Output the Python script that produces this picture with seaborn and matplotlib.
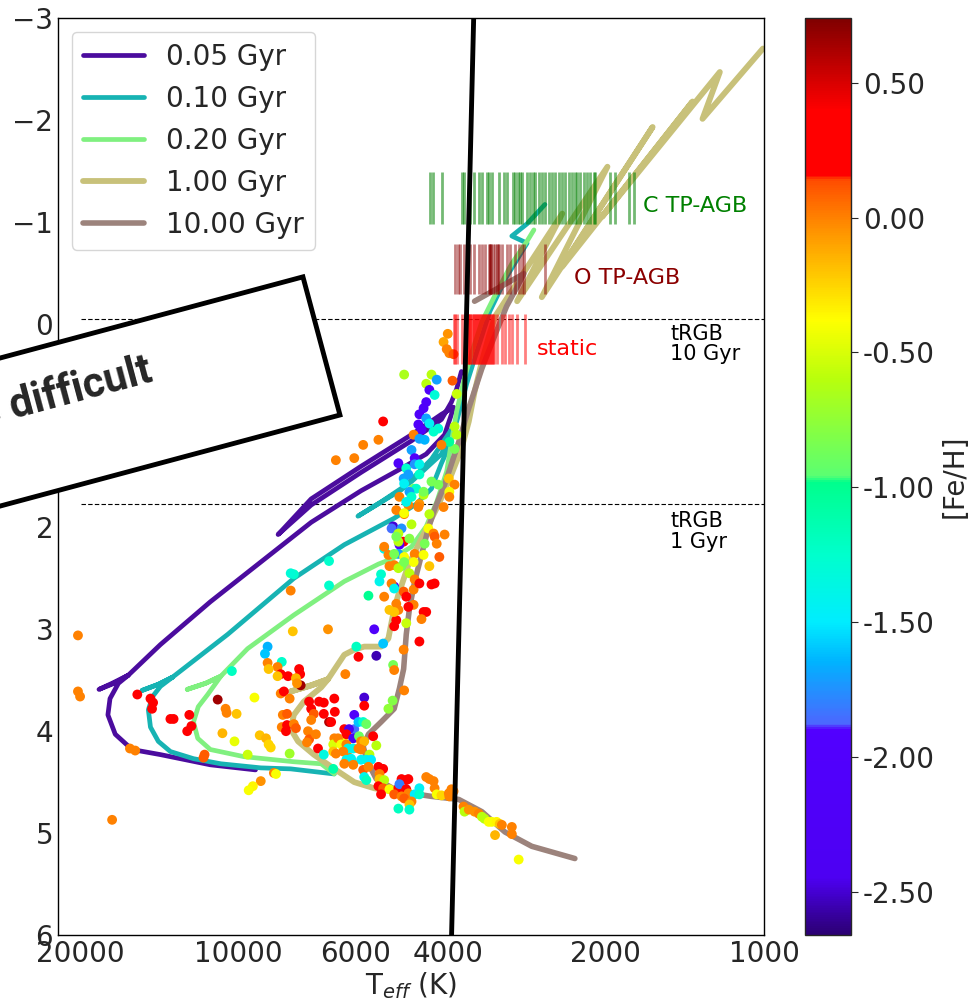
import numpy as np
import pandas as pd
import matplotlib
matplotlib.use('Agg')
import matplotlib.pyplot as plt
import seaborn as sns
from matplotlib.colors import LinearSegmentedColormap, Normalize
from matplotlib.patches import Rectangle
from matplotlib.ticker import FixedLocator, NullLocator, FixedFormatter
import matplotlib.cm as cm

sns.set_style('white')
plt.rcParams['font.family'] = ['DejaVu Sans']

# ---------------- data ----------------
ages = ['0.05 Gyr', '0.10 Gyr', '0.20 Gyr', '1.00 Gyr', '10.00 Gyr']
age_colors = ['#4b0c9e', '#17b3b3', '#80f080', '#c8c17a', '#9c837c']

iso_005_logt = [3.968, 4.054, 4.149, 4.203, 4.235, 4.249, 4.245, 4.229, 4.210, 4.241,
                4.266, 4.237, 4.210, 4.149, 4.054, 3.958, 3.862, 3.767, 3.690, 3.643,
                3.608, 3.595, 3.591, 3.614, 3.671, 3.767, 3.862, 3.925, 3.862, 3.767,
                3.671, 3.614, 3.595, 3.585, 3.576]
iso_005_mag = [4.38, 4.33, 4.23, 4.18, 4.03, 3.84, 3.68, 3.53, 3.45, 3.53,
               3.59, 3.53, 3.45, 3.15, 2.73, 2.34, 1.95, 1.64, 1.42, 1.28,
               1.09, 0.89, 0.82, 0.89, 1.09, 1.40, 1.72, 2.07, 1.78, 1.46,
               1.15, 0.94, 0.77, 0.64, 0.47]

iso_010_logt = [3.818, 3.901, 3.958, 4.034, 4.086, 4.130, 4.153, 4.168, 4.172, 4.164,
                4.149, 4.126, 4.153, 4.184, 4.153, 4.126, 4.021, 3.895, 3.799, 3.704,
                3.662, 3.633, 3.614, 3.600, 3.591, 3.633, 3.690, 3.738, 3.773, 3.729,
                3.671, 3.614, 3.585, 3.566, 3.547, 3.522, 3.490, 3.451, 3.480, 3.451,
                3.417]
iso_010_mag = [4.42, 4.37, 4.36, 4.32, 4.27, 4.20, 4.10, 3.96, 3.79, 3.66,
               3.56, 3.47, 3.54, 3.60, 3.54, 3.47, 3.05, 2.50, 2.17, 1.91,
               1.77, 1.62, 1.37, 1.21, 1.01, 1.33, 1.63, 1.78, 1.89, 1.75,
               1.55, 1.28, 0.96, 0.59, 0.28, -0.12, -0.46, -0.79, -0.86, -0.98,
               -1.17]

iso_020_logt = [3.818, 3.843, 3.895, 3.990, 4.054, 4.078, 4.086, 4.077, 4.059, 4.034,
                4.063, 4.098, 4.063, 4.034, 3.983, 3.895, 3.799, 3.734, 3.709, 3.671,
                3.643, 3.623, 3.604, 3.595, 3.585, 3.572, 3.556, 3.537, 3.509, 3.480,
                3.451, 3.438]
iso_020_mag = [4.42, 4.32, 4.30, 4.25, 4.18, 4.07, 3.91, 3.76, 3.64, 3.46,
               3.53, 3.59, 3.53, 3.46, 3.19, 2.86, 2.53, 2.36, 2.31, 2.19,
               1.99, 1.75, 1.45, 1.16, 0.86, 0.57, 0.28, -0.02, -0.31, -0.59,
               -0.81, -0.92]

iso_100_logt = [3.690, 3.742, 3.780, 3.818, 3.857, 3.887, 3.901, 3.895, 3.876, 3.843,
                3.830, 3.862, 3.901, 3.862, 3.830, 3.799, 3.780, 3.761, 3.729, 3.715,
                3.709, 3.704, 3.696, 3.677, 3.652, 3.620, 3.595, 3.576, 3.562, 3.551,
                3.537, 3.524, 3.512, 3.384, 3.470, 3.298, 3.423, 3.212, 3.384, 3.136,
                3.308, 3.084, 3.117, 3.002]
iso_100_mag = [4.61, 4.56, 4.50, 4.37, 4.23, 4.10, 3.98, 3.84, 3.71, 3.57,
               3.49, 3.55, 3.61, 3.55, 3.49, 3.25, 3.20, 3.17, 3.17, 3.09,
               2.93, 2.80, 2.66, 2.37, 2.11, 1.78, 1.48, 1.23, 0.96, 0.67,
               0.37, 0.13, -0.07, -1.08, -0.22, -1.54, -0.26, -1.93, -0.56, -2.18,
               -1.05, -2.47, -2.01, -2.70]

iso_1000_logt = [3.360, 3.442, 3.493, 3.537, 3.581, 3.633, 3.696, 3.738, 3.755, 3.763,
                 3.753, 3.729, 3.704, 3.694, 3.686, 3.681, 3.675, 3.665, 3.652, 3.639,
                 3.627, 3.608, 3.581, 3.562, 3.537, 3.512, 3.490, 3.470, 3.457, 3.551]
iso_1000_mag = [5.25, 5.13, 4.99, 4.79, 4.67, 4.64, 4.59, 4.47, 4.30, 4.15,
                4.03, 3.91, 3.78, 3.58, 3.39, 3.05, 2.80, 2.53, 2.27, 2.01,
                1.82, 1.58, 1.16, 0.83, 0.44, 0.11, -0.17, -0.36, -0.49, -0.22]

# stars: (log Teff, magnitude, [Fe/H])
stars_hot = [
    (4.306, 3.06, 0.0), (4.306, 3.61, 0.0), (4.302, 3.66, 0.0), (4.241, 4.87, 0.0),
    (4.193, 3.64, 0.3), (4.168, 3.68, 0.3), (4.163, 3.72, 0.3), (4.165, 3.78, 0.3),
    (4.207, 4.17, 0.0), (4.197, 4.19, 0.0), (4.130, 3.88, 0.3), (4.124, 3.88, 0.3),
    (4.094, 3.84, 0.3), (4.090, 3.95, 0.3), (4.098, 4.00, 0.3), (4.065, 4.23, 0.1),
    (4.067, 4.26, 0.1), (4.040, 3.69, 0.65), (4.025, 3.78, 0.0), (4.023, 3.82, 0.0),
    (4.004, 3.83, -0.2), (4.031, 4.02, -0.15), (4.008, 4.10, -0.45), (3.983, 4.23, -0.55),
    (3.970, 3.67, -0.4), (4.013, 3.41, -1.2), (3.960, 4.04, -0.2), (3.948, 4.07, -0.15),
    (3.943, 4.13, -0.25), (3.939, 4.16, -0.25), (3.933, 4.41, 0.0), (3.929, 4.42, -0.4),
    (3.958, 4.49, -0.05), (3.973, 4.54, -0.35), (3.981, 4.58, -0.4), (3.903, 4.22, -0.7),
]
stars_turnoff = [
    (3.945, 3.17, -1.65), (3.950, 3.24, -1.6), (3.918, 3.32, -1.25), (3.945, 3.33, 0.0),
    (3.926, 3.37, 0.0), (3.943, 3.39, -0.2), (3.920, 3.44, 0.3), (3.906, 3.46, 0.3),
    (3.926, 3.46, -0.2), (3.885, 3.39, 0.3), (3.883, 3.44, 0.3), (3.882, 3.55, 0.65),
    (3.891, 3.48, -0.15), (3.889, 3.53, -0.05), (3.920, 3.63, 0.0), (3.914, 3.61, 0.25),
    (3.903, 3.68, 0.0), (3.866, 3.71, 0.3), (3.862, 3.78, 0.3), (3.847, 3.71, 0.3),
    (3.838, 3.72, 0.3), (3.818, 3.68, 0.3), (3.817, 3.81, 0.3), (3.857, 3.83, 0.1),
    (3.838, 3.83, 0.3), (3.916, 3.84, 0.0), (3.908, 3.83, 0.1), (3.918, 3.96, 0.0),
    (3.908, 3.94, 0.3), (3.895, 3.93, 0.0), (3.891, 3.97, 0.1), (3.910, 4.00, 0.3),
    (3.868, 4.00, 0.0), (3.866, 4.08, 0.1), (3.870, 4.11, 0.0), (3.853, 4.03, 0.0),
    (3.849, 4.17, 0.3), (3.862, 3.89, 0.0), (3.828, 3.91, 0.6), (3.797, 3.44, 0.0),
    (3.776, 3.17, -1.2), (3.772, 3.27, 0.3), (3.818, 4.07, 0.0), (3.801, 4.10, -0.4),
    (3.820, 4.13, -0.5), (3.795, 4.00, 0.3), (3.780, 3.98, -1.85), (3.838, 4.23, -1.35),
    (3.820, 4.20, -0.2), (3.792, 4.25, 0.0), (3.782, 4.32, -0.05), (3.780, 3.84, -2.1),
    (3.772, 3.91, -1.6), (3.738, 3.26, -2.55), (3.706, 3.35, -0.85), (3.704, 3.40, 0.0),
    (3.685, 3.60, 0.0), (3.707, 3.70, -0.8), (3.715, 3.78, -0.75), (3.761, 3.67, -2.5),
    (3.761, 3.75, 0.3), (3.824, 3.91, 0.3), (3.763, 3.91, -1.25), (3.757, 3.93, -0.9),
    (3.799, 3.98, 0.3), (3.790, 3.98, -2.4), (3.795, 4.03, 0.3), (3.782, 4.07, -2.4),
    (3.744, 4.05, 0.3), (3.771, 4.05, -0.9), (3.767, 4.10, 0.0), (3.761, 4.10, -0.15),
    (3.738, 4.14, -0.6), (3.811, 4.07, 0.0), (3.805, 4.13, -0.4), (3.795, 4.13, 0.0),
    (3.792, 4.17, -1.4), (3.782, 4.17, -1.4), (3.772, 4.17, 0.0), (3.767, 4.18, 0.0),
    (3.815, 4.22, 0.0), (3.801, 4.20, 0.0), (3.751, 4.23, -0.6), (3.795, 4.28, -1.4),
    (3.786, 4.27, -1.45), (3.767, 4.28, -1.45), (3.757, 4.28, -1.4), (3.748, 4.28, -1.5),
    (3.799, 4.32, 0.0), (3.782, 4.33, 0.0), (3.820, 4.37, -1.1), (3.763, 4.38, 0.1),
    (3.753, 4.35, 0.0), (3.734, 4.35, 0.3), (3.725, 4.37, 0.3), (3.732, 4.42, 0.0),
    (3.761, 4.45, -1.4), (3.757, 4.48, -1.2), (3.732, 4.47, -0.2), (3.723, 4.48, -0.6),
]
stars_ms = [
    (3.690, 4.47, 0.3), (3.681, 4.48, 0.3), (3.643, 4.45, 0.0), (3.637, 4.47, 0.0),
    (3.629, 4.49, 0.0), (3.627, 4.56, 0.0), (3.734, 4.54, 0.3), (3.725, 4.56, 0.1),
    (3.713, 4.57, -0.4), (3.696, 4.56, 0.3), (3.694, 4.52, -1.8), (3.681, 4.57, 0.3),
    (3.677, 4.61, 0.0), (3.656, 4.56, -1.45), (3.665, 4.62, -1.5), (3.656, 4.62, -1.25),
    (3.729, 4.62, 0.3), (3.704, 4.62, 0.1), (3.690, 4.64, 0.0), (3.685, 4.66, 0.1),
    (3.671, 4.69, 0.0), (3.675, 4.72, -0.2), (3.696, 4.76, -1.2), (3.675, 4.77, -1.25),
    (3.623, 4.62, -0.4), (3.614, 4.63, -0.25), (3.600, 4.61, 0.0), (3.595, 4.57, 0.0),
    (3.599, 4.64, 0.0), (3.591, 4.59, 0.0), (3.572, 4.74, 0.0), (3.570, 4.79, -0.6),
    (3.562, 4.77, -0.05), (3.551, 4.79, -0.05), (3.543, 4.81, 0.0), (3.537, 4.84, -0.6),
    (3.532, 4.86, -0.6), (3.524, 4.89, -0.4), (3.518, 4.89, -0.4), (3.509, 4.89, -0.35),
    (3.503, 4.91, -0.2), (3.499, 4.92, 0.0), (3.480, 4.94, 0.0), (3.480, 5.01, 0.0),
    (3.512, 5.02, -0.15), (3.467, 5.26, -0.4), (3.677, 4.47, 0.3),
]
stars_rgb = [
    (3.602, 0.10, -0.05), (3.610, 0.18, -0.1), (3.604, 0.25, 0.0), (3.599, 0.29, 0.0),
    (3.591, 0.30, 0.1), (3.685, 0.50, -0.65), (3.633, 0.50, -0.6), (3.643, 0.59, -0.6),
    (3.623, 0.55, -1.7), (3.637, 0.65, -2.1), (3.627, 0.70, -1.3), (3.593, 0.56, 0.1),
    (3.585, 0.69, -0.55), (3.643, 0.77, -2.1), (3.648, 0.83, -2.15), (3.656, 0.89, -2.15),
    (3.643, 0.93, -1.7), (3.725, 0.96, 0.3), (3.658, 0.99, -2.1), (3.652, 1.04, -2.1),
    (3.637, 0.98, -1.45), (3.667, 1.09, 0.0), (3.620, 1.03, -1.3), (3.629, 1.06, -1.25),
    (3.656, 1.13, -1.7), (3.646, 1.14, -1.65), (3.734, 1.14, 0.0), (3.763, 1.19, 0.0),
    (3.815, 1.34, 0.0), (3.780, 1.32, 0.0), (3.589, 1.01, -0.6), (3.585, 1.09, -0.6),
    (3.589, 1.23, -0.85), (3.599, 1.16, -1.05), (3.671, 1.24, -1.7), (3.665, 1.32, -2.1),
    (3.696, 1.37, -2.15), (3.681, 1.42, -1.25), (3.677, 1.48, -1.7), (3.665, 1.38, -1.75),
    (3.686, 1.52, -1.7), (3.685, 1.57, -1.45), (3.656, 1.48, -1.25), (3.600, 1.52, -0.2),
    (3.589, 1.58, 0.0), (3.599, 1.65, -0.4), (3.633, 1.55, -0.85), (3.620, 1.58, -0.85),
    (3.667, 1.62, -0.9), (3.694, 1.70, 0.0), (3.648, 1.68, -0.6), (3.677, 1.78, 0.0),
    (3.656, 1.77, -0.05), (3.599, 1.70, 0.0), (3.637, 1.87, -0.6), (3.610, 1.80, 0.0),
    (3.700, 1.83, 0.0), (3.685, 1.87, 0.0), (3.706, 1.99, -2.5), (3.690, 2.01, -1.75),
    (3.709, 2.01, -1.85), (3.696, 2.06, -0.6), (3.686, 2.14, 0.3), (3.723, 2.21, -1.4),
    (3.715, 2.27, 0.0), (3.694, 2.17, -2.1), (3.696, 2.26, -1.7), (3.685, 2.29, -0.4),
    (3.665, 2.26, 0.0), (3.648, 2.27, -0.4), (3.637, 2.38, -0.2), (3.639, 2.01, -0.4),
    (3.629, 2.06, 0.0), (3.627, 2.09, 0.1), (3.608, 2.07, 0.0), (3.623, 2.16, 0.0),
    (3.618, 2.29, 0.1), (3.646, 2.16, -0.85), (3.667, 2.34, -0.4), (3.690, 2.38, -0.85),
    (3.713, 2.38, 0.0), (3.675, 2.45, -0.6), (3.665, 2.51, 0.0), (3.704, 2.58, -2.1),
    (3.709, 2.55, 0.0), (3.723, 2.68, 0.0), (3.686, 2.63, 0.1), (3.667, 2.61, 0.0),
    (3.656, 2.55, 0.3), (3.633, 2.56, 0.3), (3.627, 2.55, 0.3), (3.681, 2.68, 0.3),
    (3.667, 2.76, 0.0), (3.700, 2.75, 0.0), (3.696, 2.81, 0.0), (3.713, 2.81, -0.2),
    (3.677, 2.78, 0.3), (3.648, 2.83, 0.3), (3.643, 2.83, 0.3), (3.652, 2.90, 0.0),
    (3.700, 2.91, 0.3), (3.704, 2.97, 0.3), (3.681, 2.94, -0.55), (3.656, 3.12, 0.3),
    (3.686, 3.20, 0.0), (3.725, 3.14, -1.6), (3.901, 2.62, 0.0), (3.895, 2.46, -1.25),
    (3.901, 2.45, -1.3), (3.828, 2.33, -1.25), (3.828, 2.57, -1.25), (3.897, 3.02, -0.2),
    (3.830, 3.00, -0.05), (3.742, 3.00, -2.1), (3.753, 2.67, -1.0), (3.614, 1.19, 0.0),
    (3.656, 1.38, -1.4), (3.662, 1.62, -1.25), (3.648, 1.65, -0.85), (3.675, 1.65, -1.7),
    (3.671, 1.70, -1.25), (3.681, 1.75, -1.4), (3.685, 1.86, -0.4), (3.658, 1.80, 0.0),
    (3.671, 1.97, -0.6), (3.696, 2.14, -0.6), (3.700, 2.09, -0.85), (3.675, 2.11, -0.8),
    (3.723, 2.19, 0.0), (3.704, 2.26, -0.85), (3.729, 2.46, -1.25), (3.732, 2.53, -1.4),
    (3.704, 2.37, 0.0), (3.696, 2.40, -0.6), (3.685, 2.34, -0.85), (3.704, 2.60, -1.4),
    (3.704, 2.83, -0.2),
]

# TP-AGB / static marker temperatures (K) and magnitude bands
c_agb_teff = [4330, 4260, 4110, 3760, 3730, 3620, 3570, 3490, 3445, 3370, 3340, 3300,
              3200, 3130, 3090, 3005, 2980, 2940, 2915, 2890, 2830, 2790, 2755, 2730,
              2680, 2645, 2610, 2565, 2530, 2500, 2455, 2425, 2390, 2350, 2320, 2290,
              2270, 2240, 2200, 2170, 2140, 2105, 2095, 1960, 1920, 1805, 1765]
c_agb_band = [-1.49, -0.98]
o_agb_teff = [3880, 3830, 3795, 3730, 3680, 3635, 3570, 3490, 3445, 3400, 3340, 3330,
              3320, 3310, 3285, 3255, 3230, 3215, 3200, 3155, 3085, 3045, 2980, 2930,
              2890, 2865, 2610]
o_agb_band = [-0.785, -0.29]
static_teff = [3900, 3880, 3845, 3765, 3715, 3680, 3660, 3650, 3635, 3620, 3600, 3585,
               3570, 3555, 3540, 3525, 3505, 3490, 3475, 3460, 3445, 3430, 3415, 3400,
               3385, 3370, 3355, 3340, 3325, 3310, 3300, 3285, 3270, 3225, 3155, 3115,
               3060, 3020, 2955, 2850]
static_band = [-0.09, 0.40]

trgb_mag = [-0.05, 1.77]
trgb_labels = ['tRGB\n10 Gyr', 'tRGB\n1 Gyr']
cut_teff = [3570, 3933]
cut_mag = [-3, 6]

x_ticks = [20000, 10000, 6000, 4000, 2000, 1000]
x_ticklabels = ['20000', '10000', '6000', '4000', '2000', '1000']
cb_ticks = [0.5, 0.0, -0.5, -1.0, -1.5, -2.0, -2.5]
cb_ticklabels = ['0.50', '0.00', '-0.50', '-1.00', '-1.50', '-2.00', '-2.50']
feh_min, feh_max = -2.66, 0.74

# colormap nodes ([Fe/H] value, rgb)
cmap_nodes = [(-2.66, (0.17, 0.0, 0.45)), (-2.45, (0.30, 0.0, 0.95)),
              (-1.90, (0.32, 0.0, 1.0)), (-1.88, (0.30, 0.40, 1.0)),
              (-1.65, (0.0, 0.70, 1.0)), (-1.50, (0.0, 0.93, 1.0)),
              (-1.25, (0.0, 1.0, 0.80)), (-0.98, (0.0, 1.0, 0.55)),
              (-0.96, (0.35, 1.0, 0.45)), (-0.60, (0.72, 1.0, 0.05)),
              (-0.38, (1.0, 1.0, 0.0)), (-0.05, (1.0, 0.58, 0.0)),
              (0.14, (1.0, 0.30, 0.0)), (0.16, (1.0, 0.0, 0.0)),
              (0.40, (1.0, 0.0, 0.0)), (0.74, (0.5, 0.0, 0.0))]

# ---------------- figure ----------------
cmap = LinearSegmentedColormap.from_list(
    'feh', [((v - feh_min) / (feh_max - feh_min), c) for v, c in cmap_nodes], N=512)
norm = Normalize(vmin=feh_min, vmax=feh_max)

fig = plt.figure(figsize=(9.7, 10.05), dpi=100)
ax = fig.add_axes([0.0598, 0.0697, 0.7278, 0.9124])
cax = fig.add_axes([0.8299, 0.0697, 0.0474, 0.9124])
ax.set_xscale('log')

isos = [(iso_005_logt, iso_005_mag), (iso_010_logt, iso_010_mag),
        (iso_020_logt, iso_020_mag), (iso_100_logt, iso_100_mag),
        (iso_1000_logt, iso_1000_mag)]
widths = [3.4, 3.4, 3.4, 4.2, 4.0]
for (lt, mg), lab, col, w in zip(isos, ages, age_colors, widths):
    df = pd.DataFrame({'teff': 10 ** np.array(lt), 'mag': mg})
    sns.lineplot(data=df, x='teff', y='mag', sort=False, estimator=None,
                 color=col, lw=w, label=lab, ax=ax, zorder=2)

stars = pd.DataFrame(stars_hot + stars_turnoff + stars_ms + stars_rgb,
                     columns=['logt', 'mag', 'feh'])
stars['teff'] = 10 ** stars['logt']
sns.scatterplot(data=stars, x='teff', y='mag', hue='feh', palette=cmap,
                hue_norm=norm, s=50, linewidth=0, legend=False, ax=ax, zorder=3)

ax.vlines(c_agb_teff, c_agb_band[0], c_agb_band[1], colors='green', alpha=0.55, lw=2.0, zorder=4)
ax.vlines(o_agb_teff, o_agb_band[0], o_agb_band[1], colors='darkred', alpha=0.5, lw=2.0, zorder=4)
ax.vlines(static_teff, static_band[0], static_band[1], colors='red', alpha=0.5, lw=2.0, zorder=4)

for m in trgb_mag:
    ax.plot([20000, 1000], [m, m], color='black', lw=0.8, ls=(0, (4, 2)), zorder=1)

ax.plot(cut_teff, cut_mag, color='black', lw=3.5, zorder=6)

ax.text(1696, -1.15, 'C TP-AGB', color='green', fontsize=16, va='center', ha='left')
ax.text(2299, -0.45, 'O TP-AGB', color='darkred', fontsize=16, va='center', ha='left')
ax.text(2705, 0.245, 'static', color='red', fontsize=16, va='center', ha='left')
ax.text(1507, 0.0, trgb_labels[0], color='black', fontsize=15, va='top', ha='left', linespacing=1.05)
ax.text(1507, 1.84, trgb_labels[1], color='black', fontsize=15, va='top', ha='left', linespacing=1.05)

ax.set_xlim(22080, 1000)
ax.set_ylim(6, -3)
ax.xaxis.set_major_locator(FixedLocator(x_ticks))
ax.xaxis.set_major_formatter(FixedFormatter(x_ticklabels))
ax.xaxis.set_minor_locator(NullLocator())
ax.set_yticks(range(-3, 7))
ax.tick_params(direction='in', labelsize=20, length=5, width=1)
ax.set_xlabel(r'T$_{eff}$ (K)', fontsize=20, labelpad=2)
ax.set_ylabel('')
for s in ax.spines.values():
    s.set_linewidth(1.0)
    s.set_color('black')

handles, labels = ax.get_legend_handles_labels()
ax.legend(handles, labels, loc='upper left', fontsize=20, handlelength=2.2,
          frameon=True, borderaxespad=0.5)

sm = cm.ScalarMappable(norm=norm, cmap=cmap)
cb = fig.colorbar(sm, cax=cax)
cb.set_ticks(cb_ticks)
cb.set_ticklabels(cb_ticklabels)
cb.ax.tick_params(labelsize=20, length=5)
cb.set_label('[Fe/H]', fontsize=20)
cb.outline.set_linewidth(1.0)

# rotated annotation box
rect = Rectangle((-1.43, 4.606), 5.0, 1.43, angle=15, transform=fig.dpi_scale_trans,
                 facecolor='white', edgecolor='black', lw=3.5, zorder=20)
fig.add_artist(rect)
fig.text(1.54, 6.24, 'is difficult', transform=fig.dpi_scale_trans, rotation=15,
         rotation_mode='anchor', ha='right', va='baseline', fontsize=30,
         fontweight='bold', family=['Roboto', 'DejaVu Sans'], zorder=21)

fig.savefig('out.png', dpi=100)
